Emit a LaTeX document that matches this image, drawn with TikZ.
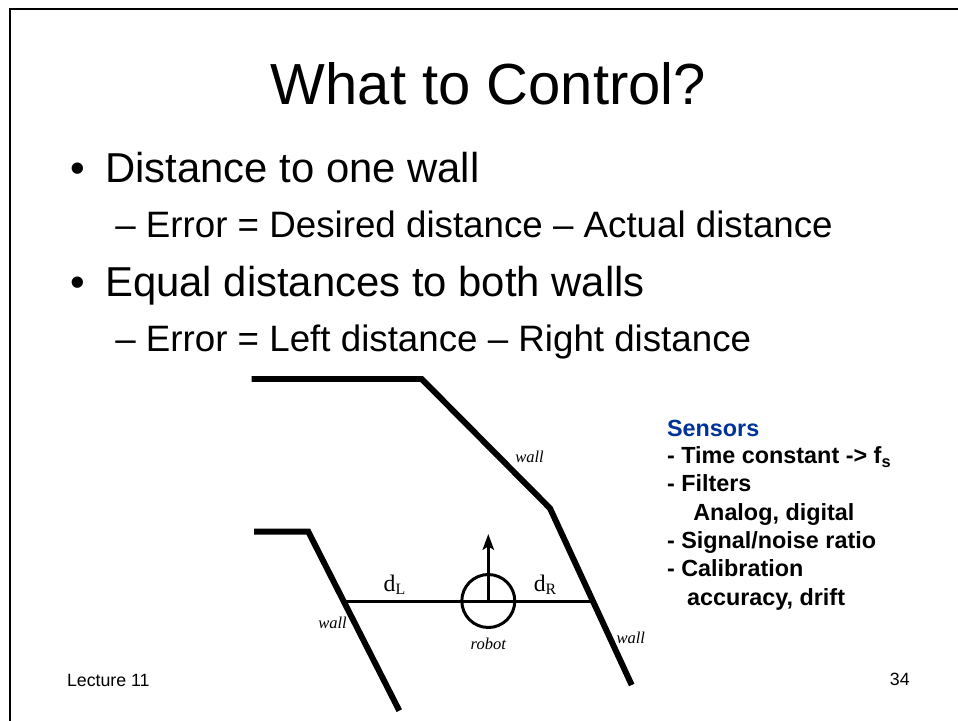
\documentclass[tikz,border=0pt]{standalone}
\usepackage{fontspec}
\setmainfont{Liberation Sans}
\newfontfamily\labelfont{Liberation Serif}
\usetikzlibrary{arrows.meta}

\definecolor{sensorblue}{RGB}{0,51,153}

\begin{document}
\begin{tikzpicture}[
    x=0.02cm, y=-0.02cm,
    >={Stealth[length=9pt, width=6.5pt, inset=2pt]},
    txt/.style={inner sep=0pt, anchor=base west},
    slidetitle/.style={inner sep=0pt, anchor=base, font=\fontsize{33}{40}\selectfont},
    lvlone/.style={txt, font=\fontsize{23.8}{28}\selectfont},
    lvltwo/.style={txt, font=\fontsize{20.9}{25}\selectfont},
    walllabel/.style={inner sep=0pt, anchor=base, font=\labelfont\itshape\fontsize{9.4}{11}\selectfont},
    distlabel/.style={inner sep=0pt, anchor=base, font=\labelfont\fontsize{13.5}{15}\selectfont},
    wall/.style={line width=3.4pt, line join=miter},
    ray/.style={line width=1.7pt},
    sensorline/.style={txt, font=\bfseries\fontsize{13.3}{16}\selectfont},
    footer/.style={inner sep=0pt, font=\fontsize{10.1}{12}\selectfont}
]
\useasboundingbox (0,0) rectangle (958,721);

% slide frame
\draw[line width=1.4pt] (10,721) -- (10,9) -- (958,9);

% title and bullets
\node[slidetitle] (title) at (488.5,104) {What to Control?};

\node[lvlone] (dot1) at (70,182) {\textbullet};
\node[lvlone] (onewall) at (105,182) {Distance to one wall};
\node[lvltwo] (err1) at (115,237) {-- Error = Desired distance -- Actual distance};
\node[lvlone] (dot2) at (70,296) {\textbullet};
\node[lvlone] (bothwalls) at (105,296) {Equal distances to both walls};
\node[lvltwo] (err2) at (115,351) {-- Error = Left distance -- Right distance};

% walls
\coordinate (tw1) at (251.7,379);
\coordinate (tw2) at (421.7,379);
\coordinate (tw3) at (550,508.3);
\coordinate (tw4) at (631.7,685);
\coordinate (lw1) at (254,531.7);
\coordinate (lw2) at (308.3,531.7);
\coordinate (lw3) at (399.3,710.7);
\draw[wall] (tw1) -- (tw2) -- (tw3) -- (tw4);
\draw[wall] (lw1) -- (lw2) -- (lw3);

% robot and distances
\coordinate (leftpt) at (343.7,601);
\coordinate (rightpt) at (593,601);
\coordinate (heading) at (488.3,534);
\draw[ray] (leftpt) -- (rightpt);
\node[circle, draw, line width=1.7pt, inner sep=0pt, minimum size=1.06cm] (robot) at (488.3,601) {};
\draw[ray, ->] (robot.center) -- (heading);

\node[distlabel] (dL) at (394.5,591) {d\raisebox{-0.3ex}{\fontsize{9}{10}\selectfont L}};
\node[distlabel] (dR) at (545,591) {d\raisebox{-0.3ex}{\fontsize{9}{10}\selectfont R}};
\node[walllabel] (topwall) at (529.5,462.7) {wall};
\node[walllabel] (leftwall) at (332.5,628.3) {wall};
\node[walllabel] (rightwall) at (630.8,643.3) {wall};
\node[walllabel] (robotlbl) at (488.3,649.3) {robot};

% sensor notes
\node[sensorline, text=sensorblue] (sens0) at (666.7,436) {Sensors};
\node[sensorline] (sens1) at (666.7,463.3) {- Time constant -> f\textsubscript{s}};
\node[sensorline] (sens2) at (666.7,491.7) {- Filters};
\node[sensorline] (sens3) at (693,520) {Analog, digital};
\node[sensorline] (sens4) at (666.7,548) {- Signal/noise ratio};
\node[sensorline] (sens5) at (666.7,576.7) {- Calibration};
\node[sensorline] (sens6) at (686.7,605) {accuracy, drift};

% footer
\node[footer, anchor=base west] (lecture) at (66.7,686) {Lecture 11};
\node[footer, anchor=base east] (pagenum) at (910,685) {34};
\end{tikzpicture}
\end{document}
